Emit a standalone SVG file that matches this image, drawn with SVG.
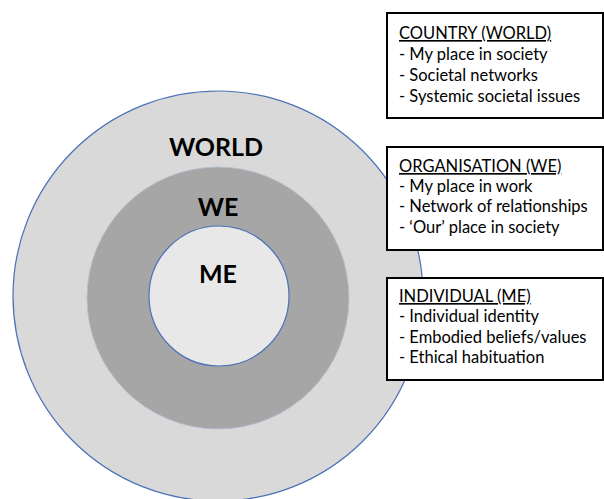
<svg xmlns="http://www.w3.org/2000/svg" width="604" height="499" viewBox="0 0 604 499">
<style>
.ring{stroke:#4a72b8;stroke-width:1.2}
.lbl{font-family:Lato,"Liberation Sans",sans-serif;font-weight:bold;font-size:25px;fill:#000;text-anchor:middle}
.box{fill:#fff;stroke:#000;stroke-width:2}
.t{font-family:Lato,"Liberation Sans",sans-serif;font-size:16.5px;fill:#000}
.h{text-decoration:underline}
</style>
<rect width="604" height="499" fill="#fff"/>
<g id="world">
<circle class="ring" cx="218" cy="296" r="205" fill="#d9d9d9"/>
<text class="lbl" x="216" y="156">WORLD</text>
</g>
<g id="we">
<circle cx="218" cy="298" r="131" fill="#a6a6a6" stroke="#b4bfd2" stroke-width="0.8"/>
<text class="lbl" x="218" y="216">WE</text>
</g>
<g id="me">
<circle class="ring" cx="219" cy="296" r="70" fill="#e8e8e8"/>
<text class="lbl" x="218" y="283">ME</text>
</g>
<g id="country">
<rect class="box" x="387" y="13" width="216" height="105"/>
<text class="t h" x="399" y="39">COUNTRY (WORLD)</text>
<text class="t" x="399" y="60">- My place in society</text>
<text class="t" x="399" y="81">- Societal networks</text>
<text class="t" x="399" y="102">- Systemic societal issues</text>
</g>
<g id="organisation">
<rect class="box" x="387" y="147" width="216" height="103"/>
<text class="t h" x="399" y="172">ORGANISATION (WE)</text>
<text class="t" x="399" y="192">- My place in work</text>
<text class="t" x="399" y="212">- Network of relationships</text>
<text class="t" x="399" y="233">- ‘Our’ place in society</text>
</g>
<g id="individual">
<rect class="box" x="387" y="278" width="216" height="102"/>
<text class="t h" x="399" y="302">INDIVIDUAL (ME)</text>
<text class="t" x="399" y="322">- Individual identity</text>
<text class="t" x="399" y="343">- Embodied beliefs/values</text>
<text class="t" x="399" y="363">- Ethical habituation</text>
</g>
<g id="connectors"/>
</svg>
